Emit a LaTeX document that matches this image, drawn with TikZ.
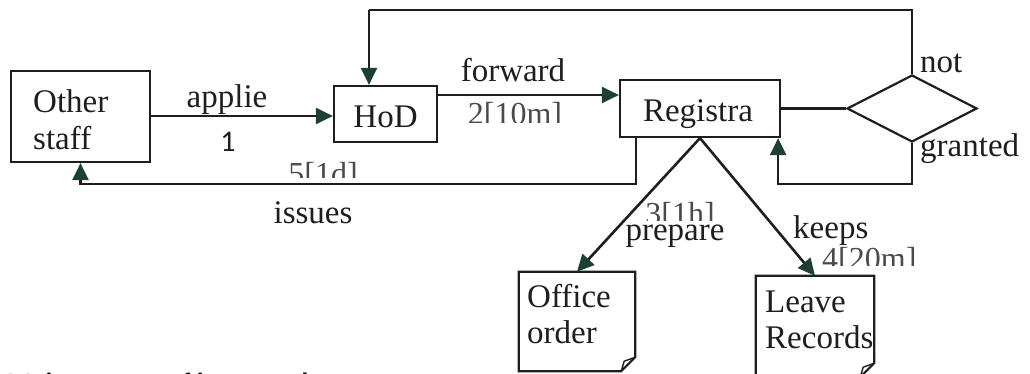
\documentclass[tikz,border=0pt]{standalone}
\usepackage{fontspec}
\setmainfont{Liberation Serif}
\newfontfamily\capfont{Carlito}
\usetikzlibrary{arrows.meta,shapes.geometric,calc}
\definecolor{ink}{HTML}{1E1E1E}
\definecolor{arrowgreen}{HTML}{1C4034}
\definecolor{numgray}{HTML}{4A4A4A}
\begin{document}
\begin{tikzpicture}[x=1pt,y=-1pt,
  font=\fontsize{33}{37}\selectfont, text=ink,
  box/.style={draw=ink, line width=2.2pt, inner sep=0pt},
  docbox/.style={inner sep=0pt},
  doc/.style={draw=ink, line width=2.2pt, line join=miter},
  txt/.style={inner sep=0pt, anchor=base west},
  ctxt/.style={inner sep=0pt, anchor=base},
  num/.style={inner sep=0pt, text=numgray, font=\fontsize{32}{36}\selectfont},
  conn/.style={draw=ink, line width=2.6pt},
  arr/.style={conn, -{Triangle[length=17pt,width=16pt,color=arrowgreen]}},
]
\useasboundingbox (0,0) rectangle (1030,374);
\clip (0,0) rectangle (1030,374);

% boxes
\node[box, minimum width=139pt, minimum height=91pt] (other) at (80.5,116.5) {};
\node[box, minimum width=103pt, minimum height=56pt] (hod) at (385.5,114) {};
\node[box, minimum width=160pt, minimum height=57pt] (reg) at (700,108.5) {};
\node[draw=ink, line width=2.2pt, diamond, minimum width=130pt, minimum height=67pt, inner sep=0pt] (dia) at (912,108.5) {};
\node[docbox, minimum width=116pt, minimum height=99pt] (office) at (577,321.5) {};
\node[docbox, minimum width=118pt, minimum height=101pt] (leave) at (815,326.5) {};

% document outlines with folded corner
\draw[doc] (office.north west) -- (office.north east) -- ($(office.south east)+(0,-14)$)
  -- ($(office.south east)+(-14,0)$) -- (office.south west) -- cycle;
\draw[doc, line width=1.4pt] ($(office.south east)+(0,-14)$) -- ($(office.south east)+(-11,-10)$) -- ($(office.south east)+(-14,0)$);
\draw[doc] (leave.north west) -- (leave.north east) -- ($(leave.south east)+(0,-14)$)
  -- ($(leave.south east)+(-14,0)$) -- (leave.south west) -- cycle;
\draw[doc, line width=1.4pt] ($(leave.south east)+(0,-14)$) -- ($(leave.south east)+(-11,-10)$) -- ($(leave.south east)+(-14,0)$);

% box texts
\node[txt] (otherA) at (33,113) {Other};
\node[txt] (otherB) at (33,150) {staff};
\node[ctxt] (hodT) at (385.5,128) {HoD};
\node[ctxt] (regT) at (698,122) {Registra};
\node[txt] (officeA) at (527,307) {Office};
\node[txt] (officeB) at (527,343) {order};
\node[txt] (leaveA) at (765,312) {Leave};
\node[txt] (leaveB) at (765,348) {Records};

% connectors
\draw[arr] (other.east |- 0,116) -- (hod.west |- 0,116);
\coordinate (topL) at (369,10);
\draw[conn, line width=2.2pt] (dia.north) |- (topL);
\draw[arr, line width=2.2pt] (topL) -- (topL |- hod.north);
\draw[arr] ([yshift=19pt]hod.east) -- ([yshift=19pt]hod.east -| reg.west);
\draw[arr, line width=2.2pt] ([xshift=17pt]reg.south west) |- ([yshift=-21pt]other.south) -- (other.south);
\draw[conn, line width=2.2pt] (reg.east) -- (dia.west);
\draw[arr, line width=2.2pt] (dia.south) |- ([xshift=-3pt,yshift=-46pt]reg.south east) -- ([xshift=-3pt]reg.south east);
\draw[arr] (reg.south) -- (office.north);
\draw[arr] (reg.south) -- (leave.north);

% labels
\node[ctxt] (lApplie) at (227,108) {applie};
\node[ctxt, font=\capfont\fontsize{30}{34}\selectfont] (lOne) at (228,152) {1};
\node[ctxt] (lForward) at (513,82) {forward};
\node[ctxt] (lIssues) at (313,223) {issues};
\node[txt] (lNot) at (920,73) {not};
\node[txt] (lGranted) at (920,157) {granted};
\node[ctxt] (lPrepare) at (675,240) {prepare};
\node[txt] (lKeeps) at (793,238) {keeps};

\begin{scope}
  \clip (440,98) rectangle (600,123);
  \node[num, anchor=base] (lTwo) at (515,125) {2[10m]};
\end{scope}
\begin{scope}
  \clip (260,158) rectangle (390,178);
  \node[num, anchor=base] (lFive) at (323,185) {5[1d]};
\end{scope}
\begin{scope}
  \clip (620,196) rectangle (740,220);
  \node[num, anchor=base] (lThree) at (680,224) {3[1h]};
\end{scope}
\begin{scope}
  \clip (815,242) rectangle (960,265);
  \node[num, anchor=base west] (lFour) at (822,269) {4[20m]};
\end{scope}

% cropped caption at the bottom edge
\node[inner sep=0pt, anchor=base west, font=\capfont\bfseries\fontsize{28}{30}\selectfont] (caption) at (7,392) {Maintenance of increased account};
\end{tikzpicture}
\end{document}
